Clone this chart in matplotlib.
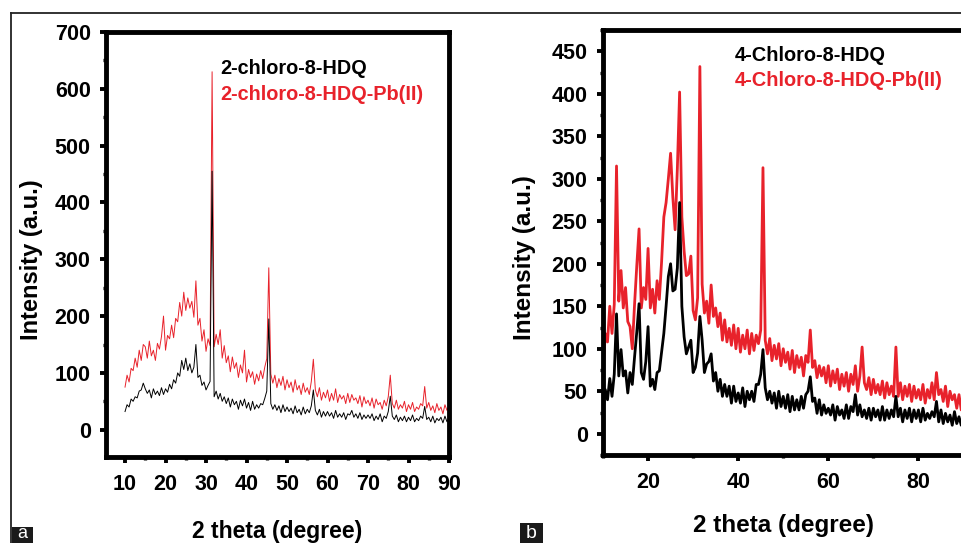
import matplotlib
matplotlib.use("Agg")
import matplotlib.pyplot as plt
from matplotlib.lines import Line2D
from matplotlib.patches import Rectangle
from matplotlib.ticker import MultipleLocator
import numpy as np

plt.rcParams['font.family'] = ['Liberation Sans', 'DejaVu Sans']
plt.rcParams['font.weight'] = 'bold'

# 2 theta sampling (degrees), 10..90 in 0.5 steps
two_theta = np.arange(10, 90.5, 0.5)

# panel a: 2-chloro-8-HDQ (black) and its Pb(II) complex (red)
a_ligand = [
    32, 44, 40, 54, 50, 58, 56, 68, 70, 82,
    72, 64, 70, 56, 72, 62, 68, 60, 74, 62,
    72, 66, 80, 72, 88, 82, 100, 94, 122, 106,
    126, 104, 116, 100, 110, 150, 92, 96, 78, 84,
    70, 78, 85, 455, 58, 68, 54, 64, 50, 58,
    46, 56, 40, 54, 44, 50, 36, 52, 42, 54,
    38, 48, 34, 50, 36, 44, 38, 46, 44, 55,
    68, 195, 46, 36, 44, 34, 42, 30, 44, 32,
    40, 32, 38, 28, 42, 30, 36, 26, 40, 28,
    36, 30, 42, 70, 34, 26, 36, 22, 32, 24,
    32, 24, 30, 20, 34, 22, 28, 22, 30, 18,
    28, 26, 34, 22, 28, 20, 30, 18, 26, 20,
    26, 20, 28, 16, 24, 18, 28, 14, 24, 20,
    32, 59, 24, 18, 26, 14, 22, 16, 24, 14,
    22, 16, 26, 14, 20, 16, 24, 20, 41, 18,
    22, 14, 24, 12, 20, 16, 22, 12, 24, 14, 20,
]
a_complex = [
    75, 96, 84, 108, 104, 126, 110, 140, 122, 150,
    146, 126, 156, 130, 140, 122, 152, 142, 164, 200,
    140, 166, 160, 184, 162, 196, 190, 224, 200, 242,
    210, 232, 214, 226, 198, 262, 184, 196, 156, 176,
    138, 160, 148, 630, 146, 168, 150, 176, 126, 148,
    118, 130, 102, 128, 108, 118, 92, 114, 100, 140,
    84, 106, 92, 102, 80, 98, 86, 104, 90, 110,
    125, 285, 98, 82, 96, 74, 90, 78, 94, 70,
    88, 74, 84, 66, 88, 70, 78, 62, 82, 66,
    74, 62, 85, 124, 70, 58, 74, 52, 66, 56,
    70, 50, 64, 52, 72, 48, 62, 54, 60, 46,
    64, 48, 62, 52, 56, 46, 60, 40, 58, 46,
    52, 42, 56, 38, 54, 44, 48, 36, 52, 42,
    58, 96, 46, 38, 52, 36, 44, 38, 50, 32,
    44, 36, 48, 32, 40, 36, 46, 42, 76, 38,
    48, 34, 42, 30, 46, 34, 40, 28, 44, 34, 42,
]

# panel b: 4-Chloro-8-HDQ (black) and its Pb(II) complex (red)
b_ligand = [
    25, 52, 40, 65, 44, 70, 141, 68, 99, 68,
    74, 48, 72, 58, 90, 120, 153, 72, 64, 85,
    126, 56, 64, 52, 72, 74, 96, 118, 150, 185,
    200, 168, 170, 195, 272, 150, 114, 94, 102, 110,
    72, 78, 95, 138, 110, 72, 82, 85, 94, 62,
    72, 50, 64, 44, 58, 44, 56, 36, 56, 38,
    48, 36, 54, 32, 50, 40, 50, 38, 58, 58,
    70, 99, 54, 40, 50, 36, 48, 30, 50, 32,
    44, 30, 46, 26, 44, 28, 40, 28, 44, 30,
    46, 50, 67, 38, 42, 24, 40, 22, 34, 24,
    30, 22, 34, 16, 32, 22, 28, 18, 34, 18,
    32, 26, 46, 22, 34, 20, 28, 18, 30, 16,
    30, 20, 28, 16, 32, 16, 28, 18, 28, 20,
    44, 20, 30, 14, 28, 18, 30, 14, 28, 18,
    28, 14, 30, 16, 24, 18, 26, 20, 38, 14,
    28, 12, 24, 14, 22, 10, 26, 12, 20, 10, 16,
]
b_complex = [
    70, 118, 108, 150, 118, 152, 315, 156, 192, 148,
    172, 132, 126, 100, 152, 198, 241, 148, 172, 158,
    218, 148, 170, 142, 180, 158, 202, 255, 272, 300,
    330, 278, 240, 312, 402, 255, 215, 186, 188, 209,
    145, 134, 160, 432, 176, 142, 156, 130, 175, 138,
    148, 126, 142, 110, 134, 108, 124, 104, 128, 100,
    124, 96, 116, 100, 122, 94, 118, 98, 116, 106,
    122, 313, 110, 94, 112, 86, 104, 88, 106, 80,
    100, 84, 96, 76, 98, 72, 92, 78, 90, 68,
    92, 84, 122, 78, 86, 66, 80, 68, 78, 60,
    80, 56, 74, 60, 76, 52, 70, 56, 72, 50,
    70, 58, 80, 50, 68, 102, 60, 52, 66, 46,
    64, 48, 58, 46, 62, 42, 60, 46, 56, 44,
    102, 44, 60, 40, 56, 44, 58, 38, 56, 42,
    52, 40, 58, 36, 52, 42, 60, 40, 72, 46,
    52, 38, 56, 32, 50, 40, 46, 30, 46, 28, 36,
]

RED = '#e8222b'
W, H = 962, 543

fig = plt.figure(figsize=(W / 100, H / 100), dpi=100)


def px_axes(left, top, right, bottom):
    return fig.add_axes([left / W, 1 - bottom / H, (right - left) / W, (bottom - top) / H])


def style(ax, fs):
    for s in ax.spines.values():
        s.set_linewidth(3.5)
    ax.tick_params(which='major', direction='out', length=4.5, width=2.8,
                   labelsize=fs, top=False, right=False)
    ax.tick_params(which='minor', direction='out', length=2.5, width=2.4,
                   top=False, right=False)
    ax.tick_params(axis='x', which='major', pad=8)
    ax.tick_params(axis='y', which='major', pad=6.5)
    for lab in ax.get_xticklabels() + ax.get_yticklabels():
        lab.set_fontweight('bold')


# ---- panel a ----
ax1 = px_axes(106, 32, 449, 457)
ax1.plot(two_theta, a_complex, color=RED, lw=0.7)
ax1.plot(two_theta, a_ligand, color='black', lw=0.7)
ax1.set_xlim(5.3, 90)
ax1.set_ylim(-48, 700)
ax1.xaxis.set_major_locator(MultipleLocator(10))
ax1.xaxis.set_minor_locator(MultipleLocator(5))
ax1.yaxis.set_major_locator(MultipleLocator(100))
ax1.yaxis.set_minor_locator(MultipleLocator(50))
style(ax1, 15.5)
ax1.set_xlabel('2 theta (degree)', fontsize=16.5, fontweight='bold', va='center')
ax1.xaxis.set_label_coords(0.5, -0.176)
ax1.set_ylabel('Intensity (a.u.)', fontsize=17, fontweight='bold', va='center')
ax1.yaxis.set_label_coords(-0.216, 0.465)
ax1.text(0.332, 0.915, '2-chloro-8-HDQ', transform=ax1.transAxes,
         fontsize=14.3, fontweight='bold', color='black', va='center')
ax1.text(0.332, 0.854, '2-chloro-8-HDQ-Pb(II)', transform=ax1.transAxes,
         fontsize=14.3, fontweight='bold', color=RED, va='center')

# ---- panel b ----
ax2 = px_axes(603, 30, 963.5, 455)
ax2.plot(two_theta, b_complex, color=RED, lw=2.0)
ax2.plot(two_theta, b_ligand, color='black', lw=2.0)
ax2.set_xlim(10, 90)
ax2.set_ylim(-25, 475)
ax2.xaxis.set_major_locator(MultipleLocator(20))
ax2.xaxis.set_minor_locator(MultipleLocator(10))
ax2.yaxis.set_major_locator(MultipleLocator(50))
ax2.yaxis.set_minor_locator(MultipleLocator(25))
style(ax2, 15.5)
ax2.set_xlabel('2 theta (degree)', fontsize=17.5, fontweight='bold', va='center')
ax2.xaxis.set_label_coords(0.5, -0.165)
ax2.set_ylabel('Intensity (a.u.)', fontsize=17.5, fontweight='bold', va='center')
ax2.yaxis.set_label_coords(-0.219, 0.464)
ax2.text(0.366, 0.939, '4-Chloro-8-HDQ', transform=ax2.transAxes,
         fontsize=14.4, fontweight='bold', color='black', va='center')
ax2.text(0.366, 0.880, '4-Chloro-8-HDQ-Pb(II)', transform=ax2.transAxes,
         fontsize=14.4, fontweight='bold', color=RED, va='center')

# ---- frame lines and panel tags ----
fig.add_artist(Line2D([11 / W, 11 / W], [0, 1 - 12.5 / H], color='#222222', lw=1.3))
fig.add_artist(Line2D([11 / W, 1], [1 - 12.5 / H, 1 - 12.5 / H], color='#222222', lw=1.3))

fig.add_artist(Rectangle((11.5 / W, 0), 21.5 / W, 16 / H, color='#1a1a1a', lw=0))
fig.text(22.2 / W, 0.5 / H, 'a', color='white', fontsize=13, fontweight='normal',
         ha='center', va='bottom')
fig.add_artist(Rectangle((520 / W, 0), 23 / W, 20 / H, color='#1a1a1a', lw=0))
fig.text(531.5 / W, 0.5 / H, 'b', color='white', fontsize=14, fontweight='normal',
         ha='center', va='bottom')

fig.savefig('out.png', dpi=100)
